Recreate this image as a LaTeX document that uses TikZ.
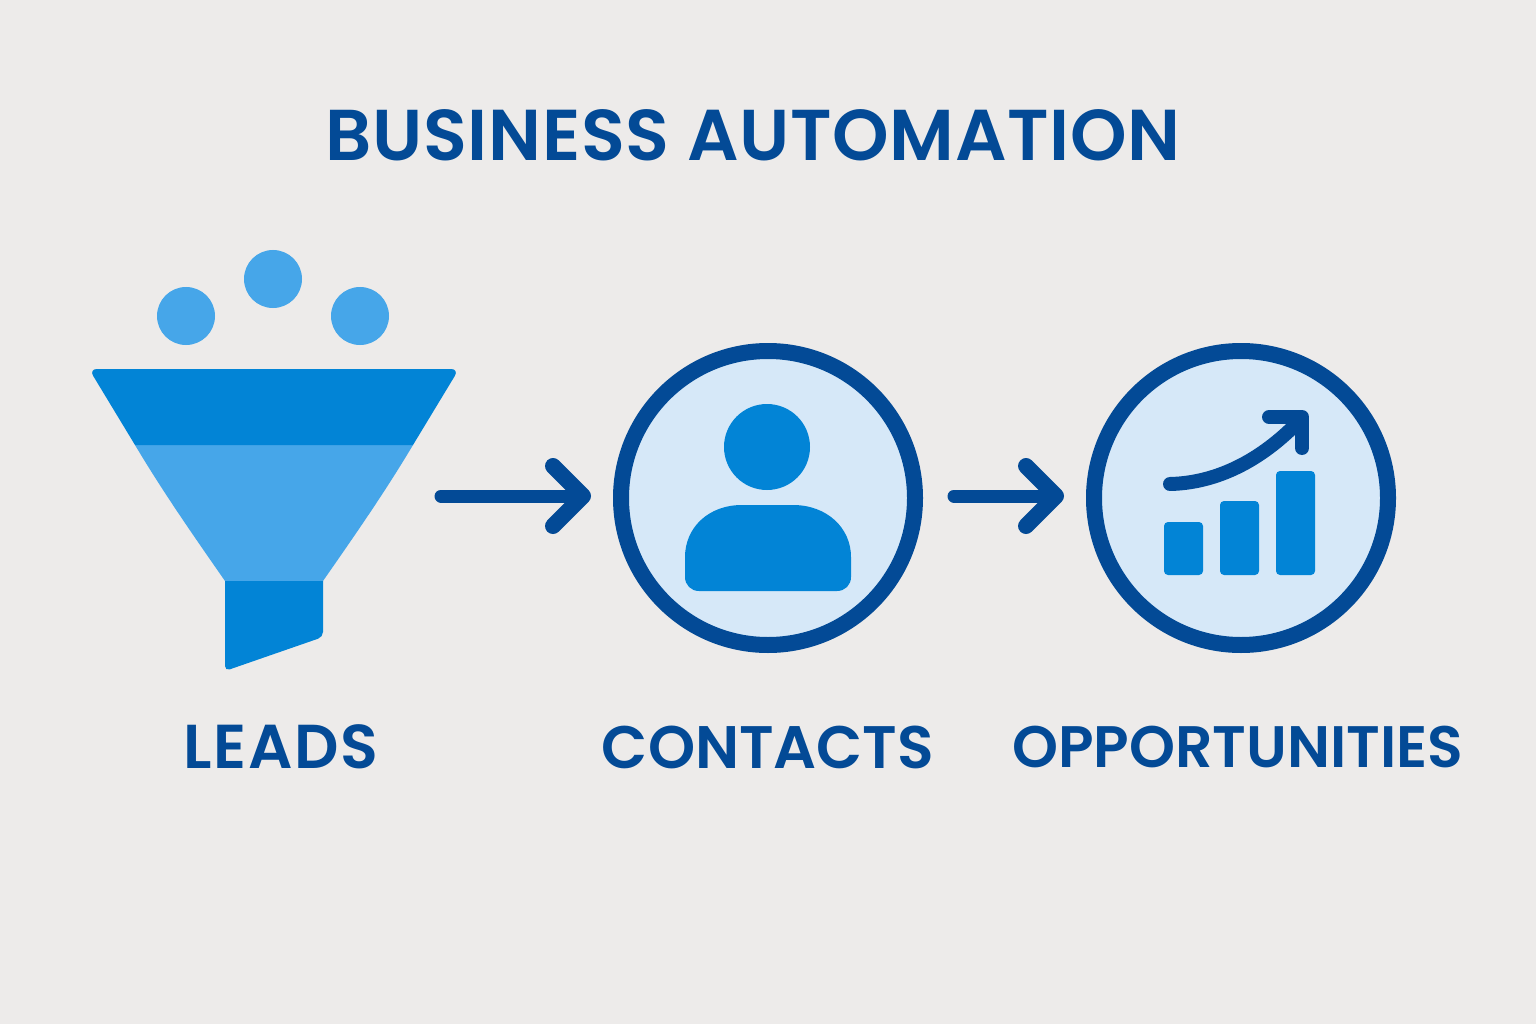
\documentclass[tikz,border=0pt]{standalone}
\usepackage{fontspec}
\setmainfont{Poppins}[BoldFont=Poppins SemiBold]
\usepackage{tikz}
\usetikzlibrary{arrows.meta}
\definecolor{navy}{HTML}{034A96}
\definecolor{midblue}{HTML}{0284D6}
\definecolor{skyblue}{HTML}{46A6E9}
\definecolor{paleblue}{HTML}{D6E8F8}
\definecolor{paper}{HTML}{EDEBEA}
\begin{document}
\begin{tikzpicture}[x=1pt,y=-1pt,>={Straight Barb[length=30pt,width=60pt,line width=16pt,round]}]
 % styles
 \tikzstyle{hub} = [circle,draw=navy,fill=paleblue,line width=16pt,minimum size=294pt];
 \tikzstyle{drop} = [circle,fill=skyblue,minimum size=58pt,inner sep=0pt];
 \tikzstyle{bar} = [fill=midblue,rounded corners=4pt];
 \tikzstyle{caption} = [text=navy,font=\bfseries\fontsize{60}{60}\selectfont,inner sep=0pt];
 \tikzstyle{link} = [->,draw=navy,line width=13pt,line cap=round];

 \path[fill=paper,use as bounding box] (0,0) rectangle (1536,1024);

 % title
 \node[caption,font=\bfseries\fontsize{72}{72}\selectfont\addfontfeature{LetterSpace=1}] (title) at (753,135) {BUSINESS AUTOMATION};

 % funnel
 \node[drop] (dropa) at (186,316) {};
 \node[drop] (dropb) at (273,279) {};
 \node[drop] (dropc) at (360,316) {};
 \fill[skyblue] (135,445) -- (413,445) .. controls (385,492) and (355,535) .. (323,581) -- (225,581) .. controls (193,535) and (163,492) .. (135,445) -- cycle;
 \fill[midblue] (135,445) [rounded corners=8pt] -- (89,369) -- (459,369) [sharp corners] -- (413,445) -- cycle;
 \fill[midblue] (225,581) -- (323,581) [rounded corners=5pt] -- (323,637) -- (225,671) [sharp corners] -- cycle;
 \coordinate (funnelout) at (441,496);

 % circles
 \node[hub] (contacts) at (768,498) {};
 \node[hub] (opps) at (1241,498) {};
 \coordinate (contactsout) at (954,496);

 % person
 \node[circle,fill=midblue,minimum size=86pt,inner sep=0pt] (head) at (767,447) {};
 \fill[midblue] (685,557) .. controls (685,528) and (708,505) .. (742,505) -- (793,505) .. controls (827,505) and (851,528) .. (851,557) -- (851,577) .. controls (851,585) and (845,591) .. (837,591) -- (699,591) .. controls (691,591) and (685,585) .. (685,577) -- cycle;

 % chart
 \fill[bar] (1164,522) rectangle (1203,575);
 \fill[bar] (1220,501) rectangle (1259,575);
 \fill[bar] (1276,471) rectangle (1315,575);
 \draw[navy,line width=14pt,line cap=round,line join=round] (1170,484) .. controls (1215,483) and (1260,462) .. (1300,420);
 \draw[navy,line width=14pt,line cap=round,line join=round] (1269,417) -- (1302,417) -- (1302,448);

 % edges
 \draw[link,shorten >=22pt] (funnelout) -- (funnelout -| contacts.west);
 \draw[link,shorten >=22pt] (contactsout) -- (contactsout -| opps.west);

 % labels
 \node[caption,font=\bfseries\fontsize{62}{62}\selectfont\addfontfeature{LetterSpace=3}] (leads) at (281,747) {LEADS};
 \node[caption] (contactslabel) at (768,747) {CONTACTS};
 \node[caption,font=\bfseries\fontsize{58.5}{60}\selectfont] (oppslabel) at (1238,747) {OPPORTUNITIES};
\end{tikzpicture}
\end{document}
